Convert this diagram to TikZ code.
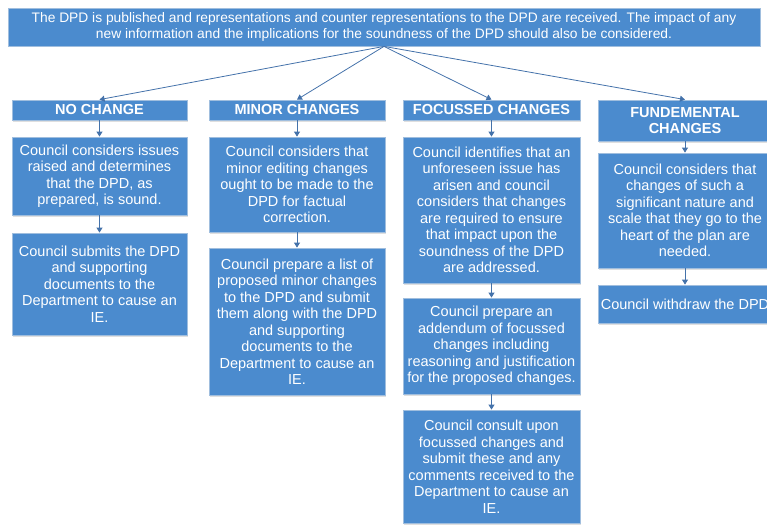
\documentclass[tikz,border=0pt]{standalone}
\usepackage{fontspec}
\setmainfont{Liberation Sans}
\usetikzlibrary{shadows,arrows.meta}
\definecolor{boxblue}{RGB}{75,139,206}
\definecolor{edgeblue}{RGB}{160,190,222}
\definecolor{linkblue}{RGB}{68,114,170}
\begin{document}
\begin{tikzpicture}[x=1pt,y=-1pt,
  box/.style={rectangle, fill=boxblue, draw=edgeblue, line width=0.8pt, text=white, align=center, inner sep=0pt,
    font=\fontsize{14.5}{16.5}\selectfont,
    drop shadow={shadow xshift=1pt,shadow yshift=-1.5pt,opacity=0.25}},
  head/.style={box, font=\bfseries\fontsize{14.5}{16.5}\selectfont},
  link/.style={draw=linkblue, line width=0.8pt, -{Triangle[width=6pt,length=5pt]}},
]
\useasboundingbox (0,0) rectangle (767,524);

\node[box, minimum width=752, minimum height=38, font=\fontsize{13.8}{16.5}\selectfont] (top) at (384,27)
  {The DPD is published and representations and counter representations to the DPD are received. The impact of any\\
   new information and the implications for the soundness of the DPD should also be considered.};

% NO CHANGE
\node[head, minimum width=175, minimum height=20] (h1) at (99.5,110) {NO CHANGE};
\node[box, minimum width=175, minimum height=78] (a1) at (99.5,176)
  {Council considers issues\\raised and determines\\that the DPD, as\\prepared, is sound.};
\node[box, minimum width=175, minimum height=102] (a2) at (99.5,284)
  {Council submits the DPD\\and supporting\\documents to the\\Department to cause an\\IE.};

% MINOR CHANGES
\node[head, minimum width=176, minimum height=20] (h2) at (297,110) {MINOR CHANGES};
\node[box, minimum width=176, minimum height=95] (b1) at (297,184.5)
  {Council considers that\\minor editing changes\\ought to be made to the\\DPD for factual\\correction.};
\node[box, minimum width=176, minimum height=147] (b2) at (297,321.5)
  {Council prepare a list of\\proposed minor changes\\to the DPD and submit\\them along with the DPD\\and supporting\\documents to the\\Department to cause an\\IE.};

% FOCUSSED CHANGES
\node[head, minimum width=177, minimum height=20] (h3) at (491.5,110) {FOCUSSED CHANGES};
\node[box, minimum width=177, minimum height=146] (c1) at (491.5,210)
  {Council identifies that an\\unforeseen issue has\\arisen and council\\considers that changes\\are required to ensure\\that impact upon the\\soundness of the DPD\\are addressed.};
\node[box, minimum width=177, minimum height=96] (c2) at (491.5,346)
  {Council prepare an\\addendum of focussed\\changes including\\reasoning and justification\\for the proposed changes.};
\node[box, minimum width=177, minimum height=113] (c3) at (491.5,466.5)
  {Council consult upon\\focussed changes and\\submit these and any\\comments received to the\\Department to cause an\\IE.};

% FUNDEMENTAL CHANGES
\node[head, minimum width=174, minimum height=41] (h4) at (685,120.5) {FUNDEMENTAL\\CHANGES};
\node[box, minimum width=174, minimum height=115] (d1) at (685,210.5)
  {Council considers that\\changes of such a\\significant nature and\\scale that they go to the\\heart of the plan are\\needed.};
\node[box, minimum width=174, minimum height=38] (d2) at (685,304)
  {Council withdraw the DPD};

% connectors
\foreach \h in {h1,h2,h3,h4} \draw[link] (top.south) -- (\h.north);
\draw[link] (h1) -- (a1);
\draw[link] (a1) -- (a2);
\draw[link] (h2) -- (b1);
\draw[link] (b1) -- (b2);
\draw[link] (h3) -- (c1);
\draw[link] (c1) -- (c2);
\draw[link] (c2) -- (c3);
\draw[link] (h4) -- (d1);
\draw[link] (d1) -- (d2);
\end{tikzpicture}
\end{document}
